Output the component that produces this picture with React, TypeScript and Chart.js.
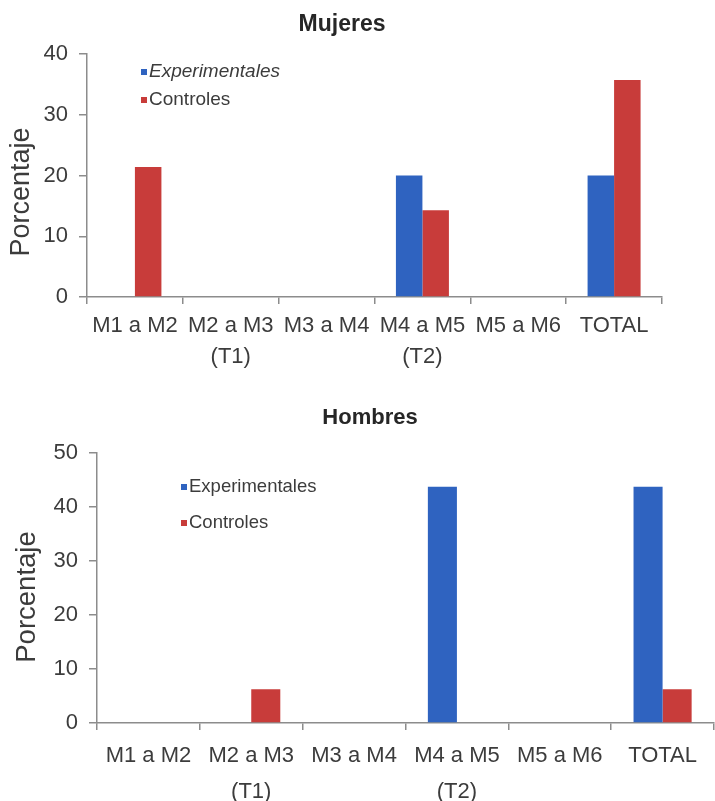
import React, { useEffect, useRef } from "react";
import { Chart, registerables } from "chart.js";
Chart.register(...registerables);

// ---------- data ----------
const categories: string[][] = [
  ["M1 a M2"],
  ["M2 a M3", "(T1)"],
  ["M3 a M4"],
  ["M4 a M5", "(T2)"],
  ["M5 a M6"],
  ["TOTAL"],
];
const seriesNames = ["Experimentales", "Controles"];
const mujeresTitle = "Mujeres";
const hombresTitle = "Hombres";
const yAxisTitle = "Porcentaje";
const mujeresExperimentales = [0, 0, 0, 20, 0, 20];
const mujeresControles = [21.4, 0, 0, 14.3, 0, 35.7];
const hombresExperimentales = [0, 0, 0, 43.75, 0, 43.75];
const hombresControles = [0, 6.25, 0, 0, 0, 6.25];
const mujeresYMax = 40;
const hombresYMax = 50;
const yStep = 10;

// ---------- styles ----------
const W = 715;
const BLUE = "#2f63c0";
const RED = "#c83c3a";
const AXIS = "#8c8c8c";
const TEXT = "#3c3c3c";
const SANS = "'Liberation Sans', Arial, sans-serif";

type PanelCfg = {
  title: string;
  exp: number[];
  ctrl: number[];
  yMax: number;
  canvasH: number;
  area: { left: number; right: number; top: number; bottom: number };
  titlePos: { x: number; y: number; size: number };
  yTitlePos: { x: number; y: number; size: number };
  legend: { markX: number; textX: number; rows: number[]; size: number; italicFirst: boolean };
  xFont: { family: string; size: number; lineHeight: number };
  xPad: number;
  catPct: number;
};

const panels: PanelCfg[] = [
  {
    title: mujeresTitle,
    exp: mujeresExperimentales,
    ctrl: mujeresControles,
    yMax: mujeresYMax,
    canvasH: 385,
    area: { left: 87, right: 662, top: 54, bottom: 297 },
    titlePos: { x: 342, y: 25, size: 23 },
    yTitlePos: { x: 22, y: 192, size: 27 },
    legend: { markX: 141, textX: 149, rows: [72, 100], size: 19, italicFirst: true },
    xFont: { family: SANS, size: 22, lineHeight: 1.42 },
    xPad: 6,
    catPct: 0.553,
  },
  {
    title: hombresTitle,
    exp: hombresExperimentales,
    ctrl: hombresControles,
    yMax: hombresYMax,
    canvasH: 416,
    area: { left: 97, right: 714, top: 68, bottom: 338 },
    titlePos: { x: 370, y: 33, size: 22 },
    yTitlePos: { x: 27, y: 212, size: 27.5 },
    legend: { markX: 181, textX: 189, rows: [102, 138], size: 18.5, italicFirst: false },
    xFont: { family: SANS, size: 22, lineHeight: 1.62 },
    xPad: 8,
    catPct: 0.565,
  },
];

function overlayPlugin(cfg: PanelCfg) {
  return {
    id: "overlay",
    afterDraw(chart: any) {
      const ctx: CanvasRenderingContext2D = chart.ctx;
      ctx.save();
      // title
      ctx.fillStyle = "#262626";
      ctx.font = `bold ${cfg.titlePos.size}px ${SANS}`;
      ctx.textAlign = "center";
      ctx.textBaseline = "middle";
      ctx.fillText(cfg.title, cfg.titlePos.x, cfg.titlePos.y);
      // y axis title
      ctx.save();
      ctx.translate(cfg.yTitlePos.x, cfg.yTitlePos.y);
      ctx.rotate(-Math.PI / 2);
      ctx.fillStyle = TEXT;
      ctx.font = `${cfg.yTitlePos.size}px ${SANS}`;
      ctx.fillText(yAxisTitle, 0, 0);
      ctx.restore();
      // legend
      chart.data.datasets.forEach((ds: any, i: number) => {
        const y = cfg.legend.rows[i];
        ctx.fillStyle = ds.backgroundColor;
        ctx.fillRect(cfg.legend.markX, y - 3, 6, 6);
        ctx.fillStyle = TEXT;
        ctx.textAlign = "left";
        ctx.textBaseline = "middle";
        const it = cfg.legend.italicFirst && i === 0 ? "italic " : "";
        ctx.font = `${it}${cfg.legend.size}px ${SANS}`;
        ctx.fillText(ds.label, cfg.legend.textX, y);
      });
      ctx.restore();
    },
  };
}

function Panel({ cfg, top }: { cfg: PanelCfg; top: number }) {
  const ref = useRef<HTMLCanvasElement | null>(null);
  useEffect(() => {
    if (!ref.current) return;
    const chart = new Chart(ref.current, {
      type: "bar",
      data: {
        labels: categories,
        datasets: [
          { label: seriesNames[0], data: cfg.exp, backgroundColor: BLUE, borderWidth: 0 },
          { label: seriesNames[1], data: cfg.ctrl, backgroundColor: RED, borderWidth: 0 },
        ],
      },
      options: {
        animation: false,
        responsive: false,
        devicePixelRatio: 1,
        layout: { padding: { top: cfg.area.top, right: W - cfg.area.right, left: 0, bottom: 0 } },
        datasets: { bar: { categoryPercentage: cfg.catPct, barPercentage: 1 } },
        plugins: { legend: { display: false }, title: { display: false }, tooltip: { enabled: false } },
        scales: {
          x: {
            grid: { display: true, drawOnChartArea: false, drawTicks: true, tickLength: 7, color: AXIS, lineWidth: 1.5, offset: true },
            border: { display: true, color: AXIS, width: 1.5 },
            ticks: { color: TEXT, font: cfg.xFont, padding: cfg.xPad, maxRotation: 0, autoSkip: false },
            afterFit: (s: any) => { s.height = cfg.canvasH - cfg.area.bottom; },
          },
          y: {
            min: 0,
            max: cfg.yMax,
            grid: { display: true, drawOnChartArea: false, drawTicks: true, tickLength: 8, color: AXIS, lineWidth: 1.5 },
            border: { display: true, color: AXIS, width: 1.5 },
            ticks: { stepSize: yStep, color: TEXT, font: { family: SANS, size: 22 }, padding: 11 },
            afterFit: (s: any) => { s.width = cfg.area.left; },
          },
        },
      },
      plugins: [overlayPlugin(cfg)],
    } as any);
    return () => chart.destroy();
  }, [cfg]);
  return (
    <div style={{ position: "absolute", left: 0, top, width: W, height: cfg.canvasH }}>
      <canvas ref={ref} width={W} height={cfg.canvasH} style={{ display: "block" }} />
    </div>
  );
}

export default function App() {
  return (
    <div style={{ position: "absolute", left: 0, top: 0, width: W, height: 801, background: "#ffffff" }}>
      <Panel cfg={panels[0]} top={0} />
      <Panel cfg={panels[1]} top={385} />
    </div>
  );
}
